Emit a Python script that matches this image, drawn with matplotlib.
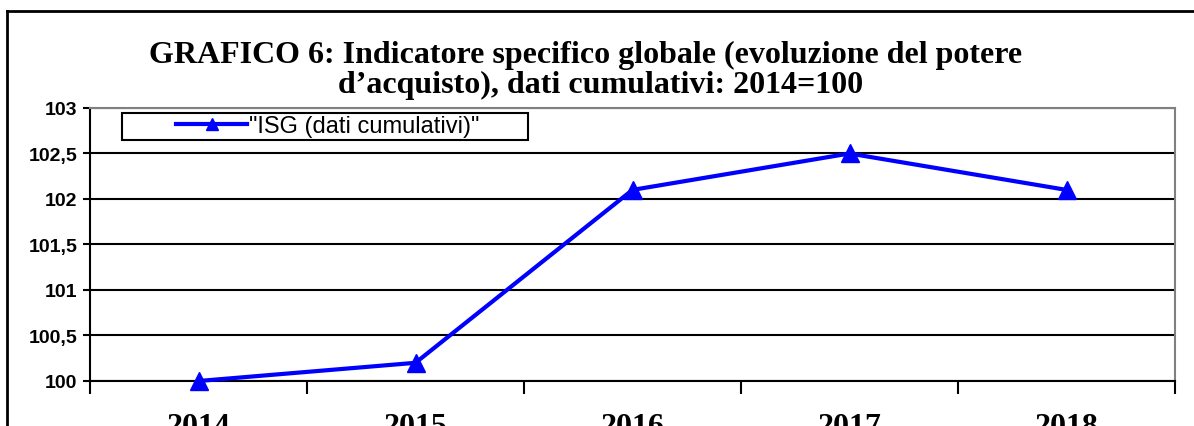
import matplotlib.pyplot as plt
from matplotlib.patches import Rectangle
from matplotlib.lines import Line2D
from matplotlib.ticker import FuncFormatter

'''Data'''
years = ['2014', '2015', '2016', '2017', '2018']
isg = [100.0, 100.2, 102.1, 102.5, 102.1]
series_label = '"ISG (dati cumulativi)"'
title_1 = "GRAFICO 6: Indicatore specifico globale (evoluzione del potere"
title_2 = "d\u2019acquisto), dati cumulativi: 2014=100"

serif = ['Liberation Serif', 'DejaVu Serif']
sans = ['Liberation Sans', 'DejaVu Sans']
narrow = ['Liberation Sans Narrow', 'Liberation Sans', 'DejaVu Sans']

fig = plt.figure(figsize=(11.94, 4.27), dpi=100)
ax = fig.add_axes([90/1194, 1 - 382/427, (1175 - 90)/1194, (382 - 109)/427])

x = list(range(len(years)))
ax.plot(x, isg, color='#0000ff', linewidth=3, marker='^', markersize=13,
        clip_on=False, zorder=5)

ax.set_xlim(-0.5, len(years) - 0.5)
ax.set_ylim(100, 103)
ax.set_yticks([100 + 0.5 * i for i in range(7)])
ax.yaxis.set_major_formatter(FuncFormatter(
    lambda v, p: f'{v:g}'.replace('.', ',')))
ax.grid(axis='y', color='black', linewidth=1.5)
ax.set_axisbelow(True)

# category labels at centers, tick marks at the boundaries
ax.set_xticks(x)
ax.set_xticklabels(years, fontfamily=serif, fontweight='bold', fontsize=23)
ax.set_xticks([i - 0.5 for i in range(len(years) + 1)], minor=True)
ax.tick_params(axis='x', which='major', length=0, pad=22)
ax.tick_params(axis='x', which='minor', length=9, width=1.5, direction='out')
ax.tick_params(axis='y', length=5, width=1.5, direction='out', pad=4)
for lab in ax.get_yticklabels():
    lab.set_fontfamily(sans)
    lab.set_fontweight('bold')
    lab.set_fontsize(14)

for s in ['left', 'bottom']:
    ax.spines[s].set_color('black')
    ax.spines[s].set_linewidth(1.5)
for s in ['top', 'right']:
    ax.spines[s].set_color('#808080')
    ax.spines[s].set_linewidth(1.5)

fig.text(586/1194, 1 - 55/427, title_1, ha='center', va='center',
         fontfamily=serif, fontweight='bold', fontsize=23)
fig.text(601/1194, 1 - 85/427, title_2, ha='center', va='center',
         fontfamily=serif, fontweight='bold', fontsize=23)

# legend box
fig.patches.append(Rectangle((122/1194, 1 - 141/427), (528 - 122)/1194, 27/427,
                             transform=fig.transFigure, fill=False,
                             edgecolor='black', linewidth=1.5))
handle = Line2D([], [], color='#0000ff', linewidth=3, marker='^', markersize=9)
fig.legend([handle], [series_label], loc='center',
           bbox_to_anchor=(328/1194, 1 - 127/427), frameon=False,
           prop={'family': narrow, 'size': 17}, handlelength=3.0,
           handletextpad=0.1, borderpad=0)

# outer frame of the sheet
fig.add_artist(Line2D([7/1194, 7/1194], [0, 1 - 12/427], color='black',
                      linewidth=2, transform=fig.transFigure))
fig.add_artist(Line2D([7/1194, 1], [1 - 12/427, 1 - 12/427], color='black',
                      linewidth=2, transform=fig.transFigure))

fig.savefig('out.png', dpi=100)
